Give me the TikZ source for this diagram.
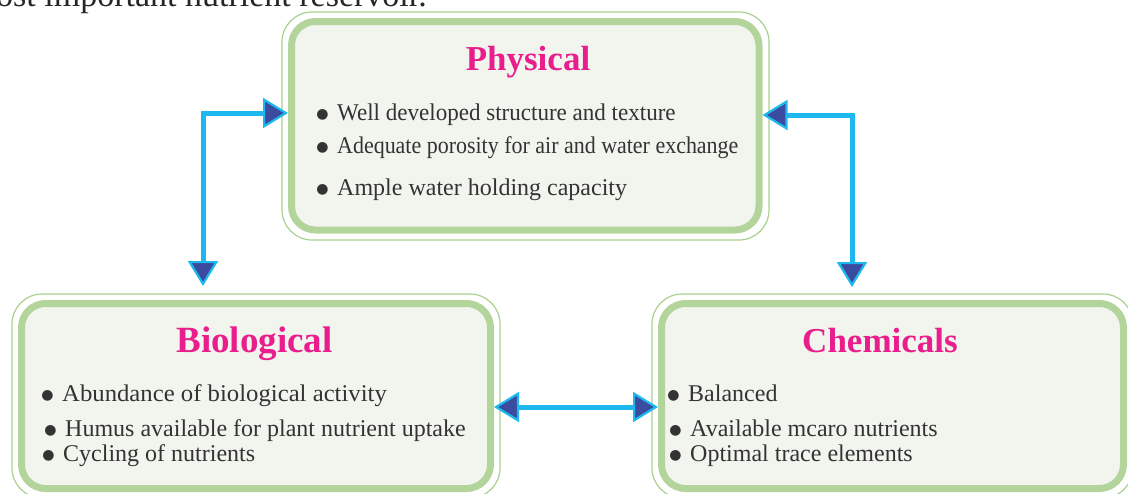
\documentclass[tikz,border=0pt]{standalone}
\usepackage{fontspec}
\usepackage{graphicx}
\setmainfont{Liberation Serif}
\newfontfamily\symfont{DejaVu Sans}
\usetikzlibrary{arrows.meta,calc}
\definecolor{boxfill}{HTML}{F1F5EE}
\definecolor{boxborder}{HTML}{B3D49B}
\definecolor{boxthin}{HTML}{A9D08E}
\definecolor{titlemag}{HTML}{E91E8C}
\definecolor{arrcyan}{HTML}{1DB8EE}
\definecolor{tipblue}{HTML}{3B4BA0}
\definecolor{bodytext}{HTML}{333333}
\newcommand{\itembul}{\llap{{\symfont\fontsize{14}{14}\selectfont\raisebox{2pt}{●}}\hspace{8.5pt}}}
\tikzset{tipshape/.tip={Triangle[length=25pt,width=30pt,fill=tipblue,line width=2.2pt]}}
\begin{document}
\begin{tikzpicture}[x=1pt,y=-1pt,
  panel/.style={draw=boxborder, line width=7pt, fill=boxfill, rounded corners=24pt, inner sep=0pt},
  thinframe/.style={draw=boxthin, line width=1.2pt, rounded corners=30pt},
  titletext/.style={text=titlemag, font=\fontsize{35}{40}\selectfont\bfseries, anchor=base, inner sep=0pt},
  itemtext/.style={text=bodytext, font=\fontsize{24}{28}\selectfont, anchor=base west, inner sep=0pt},
  pagetext/.style={text=black!85, font=\fontsize{34}{38}\selectfont, anchor=base east, inner sep=0pt},
  link/.style={draw=arrcyan, line width=5pt, arrows={tipshape-tipshape}}
]
\useasboundingbox (0,0) rectangle (1128,493);
\clip (0,0) rectangle (1128,493);

% cut-off page text at the top
\node[pagetext] (pagetop) at (427,6) {most important nutrient reservoir.};

% panels
\node[panel, minimum width=467.5pt, minimum height=208.5pt] (phys) at (525.25,125.75) {};
\node[panel, minimum width=469pt, minimum height=185pt] (bio) at (256,396) {};
\node[panel, minimum width=462pt, minimum height=185pt] (chem) at (892.5,396) {};

\draw[thinframe] ([xshift=-6pt,yshift=6pt]phys.north west) rectangle ([xshift=6.5pt,yshift=-6.5pt]phys.south east);
\draw[thinframe] ([xshift=-6pt,yshift=6pt]bio.north west) rectangle ([xshift=6pt,yshift=-6pt]bio.south east);
\draw[thinframe] ([xshift=-6pt,yshift=6pt]chem.north west) rectangle ([xshift=6pt,yshift=-6pt]chem.south east);

% titles
\node[titletext] (physT) at (528,70) {Physical};
\node[titletext, font=\fontsize{37}{42}\selectfont\bfseries] (bioT) at (254.5,352) {Biological};
\node[titletext] (chemT) at (880,352) {Chemicals};

% physical items
\node[itemtext] (p1) at (337,120) {\itembul\scalebox{0.96}[1]{Well developed structure and texture}};
\node[itemtext] (p2) at (337,153.5) {\itembul\scalebox{0.915}[1]{Adequate porosity for air and water exchange}};
\node[itemtext] (p3) at (337,195) {\itembul Ample water holding capacity};

% biological items
\node[itemtext] (b1) at (62,401.7) {\itembul\scalebox{1.03}[1]{Abundance of biological activity}};
\node[itemtext] (b2) at (65,436) {\itembul Humus available for plant nutrient uptake};
\node[itemtext] (b3) at (63,461.7) {\itembul Cycling of nutrients};

% chemical items
\node[itemtext] (c1) at (688,401.7) {\itembul Balanced};
\node[itemtext] (c2) at (690,436) {\itembul Available mcaro nutrients};
\node[itemtext] (c3) at (690,461.7) {\itembul Optimal trace elements};

% connectors
\coordinate (leftend) at (203,286);
\coordinate (rightend) at (852,287);
\draw[link] (leftend) |- ($(phys.west)+(0,-12.75)$);
\draw[link] (rightend) |- ($(phys.east)+(0,-10.75)$);
\draw[link] ($(bio.east)+(0,11)$) -- ($(chem.west)+(0,11)$);
\end{tikzpicture}
\end{document}
